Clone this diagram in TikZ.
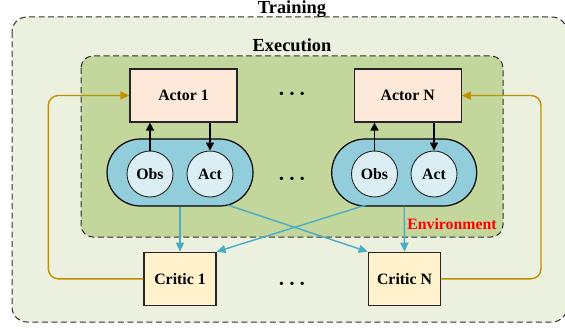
\documentclass[tikz,border=0pt]{standalone}
\usepackage{fontspec}
\setmainfont{Liberation Serif}
\usetikzlibrary{arrows.meta,calc}
\definecolor{outerfill}{HTML}{EBF1DE}
\definecolor{execfill}{HTML}{C3D69B}
\definecolor{actorfill}{HTML}{FDE9D9}
\definecolor{pillfill}{HTML}{92CDDC}
\definecolor{circfill}{HTML}{DAEEF3}
\definecolor{criticfill}{HTML}{FFF2CC}
\definecolor{goldline}{HTML}{BF9000}
\definecolor{blueline}{HTML}{4BACC6}
\definecolor{dashgray}{HTML}{303030}
\tikzset{
  nodefont/.style={font=\fontsize{15.8}{18}\selectfont\bfseries},
  titlefont/.style={font=\fontsize{18.4}{21}\selectfont\bfseries},
  actorbox/.style={draw=black!85, line width=1.2pt, fill=actorfill, minimum width=107pt, minimum height=53pt, inner sep=0pt, nodefont},
  criticbox/.style={draw=black!85, line width=1.2pt, fill=criticfill, minimum width=72pt, minimum height=53pt, inner sep=0pt, nodefont},
  pill/.style={draw=black, line width=1.2pt, fill=pillfill, minimum width=146pt, minimum height=67pt, rounded corners=33.5pt, inner sep=0pt},
  circ/.style={draw=black!85, line width=0.9pt, fill=circfill, circle, minimum size=46pt, inner sep=0pt, nodefont},
  blk/.style={line width=1.5pt, black, -{Triangle[width=8pt,length=8pt]}},
  bluearr/.style={line width=1.4pt, blueline, -{Triangle[width=8pt,length=9pt]}},
  goldarr/.style={line width=1.4pt, goldline, rounded corners=10pt, -{Triangle[width=8pt,length=9pt]}},
  container/.style={dash pattern=on 6pt off 3.5pt, line width=1pt, draw=dashgray},
  dots/.style={font=\fontsize{14}{15}\selectfont, inner sep=0pt},
}
\begin{document}
\begin{tikzpicture}[x=1pt,y=-1pt]
\useasboundingbox (0,0) rectangle (565,329);
% containers
\draw[container, fill=outerfill, rounded corners=15pt] (12,17) rectangle (567,322);
\node[titlefont, anchor=base, inner sep=0pt] (training) at (292,13.3) {Training};
\draw[container, fill=execfill, rounded corners=12pt] (81,56) rectangle (503,237);
\node[titlefont, anchor=base, inner sep=0pt] (execution) at (292,51.5) {Execution};
% actors
\node[actorbox] (actor1) at (183.5,95.5) {Actor 1};
\node[actorbox] (actorN) at (407.7,95.5) {Actor N};
% pills
\node[pill] (pill1) at (180,172.5) {};
\node[pill, minimum width=145pt] (pillN) at (404.2,172.5) {};
\node[circ] (obs1) at (150,174) {Obs};
\node[circ] (act1) at (210,174) {Act};
\node[circ] (obsN) at (374.5,174) {Obs};
\node[circ] (actN) at (434,174) {Act};
% critics
\node[criticbox] (critic1) at (180,278.8) {Critic 1};
\node[criticbox, minimum width=72.4pt] (criticN) at (404.5,278.8) {Critic N};
% dots
\node[dots] (dtop) at (292,95) {\textbullet\hspace{5.5pt}\textbullet\hspace{5.5pt}\textbullet};
\node[dots] (dmid) at (292,180) {\textbullet\hspace{5.5pt}\textbullet\hspace{5.5pt}\textbullet};
\node[dots] (dbot) at (292,285) {\textbullet\hspace{5.5pt}\textbullet\hspace{5.5pt}\textbullet};
% environment label
\node[nodefont, text=red] (env) at (452,224) {Environment};
% black arrows
\draw[blk] (obs1.north) -- (obs1.north |- actor1.south);
\draw[blk] (act1.north |- actor1.south) -- (act1.north);
\draw[blk] (obsN.north) -- (obsN.north |- actorN.south);
\draw[blk] (actN.north |- actorN.south) -- (actN.north);
% blue arrows
\coordinate (p1r) at ($(pill1.south)+(48,-1.5)$);
\coordinate (pNl) at ($(pillN.south)+(-38.5,-1.5)$);
\draw[bluearr] (pill1.south) -- (critic1.north);
\draw[bluearr] (p1r) -- (criticN.north west);
\draw[bluearr] (pNl) -- (critic1.north east);
\draw[bluearr] (pillN.south) -- (criticN.north);
% gold feedback
\coordinate (gl) at (48.3,0);
\coordinate (gr) at (541,0);
\draw[goldarr] (critic1.west) -| (gl |- actor1.west) -- (actor1.west);
\draw[goldarr] (criticN.east) -| (gr |- actorN.east) -- (actorN.east);
\end{tikzpicture}
\end{document}
